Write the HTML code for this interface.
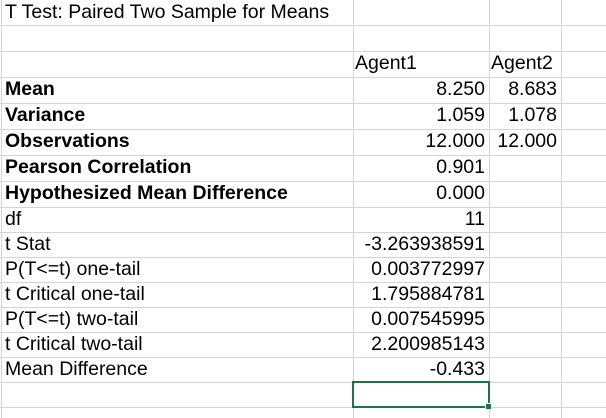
<!DOCTYPE html>
<html><head><meta charset="utf-8"><style>
body{margin:0;width:606px;height:418px;background:#fff;overflow:hidden;position:relative;font-family:"Liberation Sans",Arial,sans-serif;font-size:19.5px;color:#000}
.h{position:absolute;left:0;width:606px;height:1px;background:#d4d4d4}
.v{position:absolute;top:0;height:418px;width:1px;background:#d4d4d4}
.c{position:absolute;white-space:nowrap;line-height:1}
.b{font-weight:bold}
.r{text-align:right}
</style></head><body>
<div class="v" style="left:1px"></div>
<div class="v" style="left:353px"></div>
<div class="v" style="left:489px"></div>
<div class="v" style="left:561px"></div>
<div id="rows"></div>
<div id="cells"></div>
<div style="position:absolute;left:352px;top:381px;width:134px;height:23px;border:2px solid #217346"></div>
<div style="position:absolute;left:485px;top:403px;width:5px;height:5px;background:#217346;border:1px solid #fff"></div>
<script>
const lines=[25,51,77,103,129,155,181,207,232,257,282,307,332,357,382,407];
const rows=document.getElementById('rows');
lines.forEach(y=>{const d=document.createElement('div');d.className='h';d.style.top=y+'px';

rows.appendChild(d);});
const labels=["T Test: Paired Two Sample for Means","","","Mean","Variance","Observations","Pearson Correlation","Hypothesized Mean Difference","df","t Stat","P(T<=t) one-tail","t Critical one-tail","P(T<=t) two-tail","t Critical two-tail","Mean Difference"];
const agent1=["","","Agent1","8.250","1.059","12.000","0.901","0.000","11","-3.263938591","0.003772997","1.795884781","0.007545995","2.200985143","-0.433"];
const agent2=["","","Agent2","8.683","1.078","12.000","","","","","","","","",""];
const tops=[0].concat(lines);
const cells=document.getElementById('cells');
function add(txt,row,x,w,cls,name){
 if(!txt)return;const d=document.createElement('div');d.className='c '+cls;
 
 
 const top=tops[row],h=tops[row+1]-tops[row];
 d.style.top=(top+h/2-10)+'px';d.style.left=x+'px';if(w)d.style.width=w+'px';
 d.textContent=txt;cells.appendChild(d);}
labels.forEach((t,i)=>add(t,i,5,0,(i>=3&&i<=7)?'b':'','row-label'));
agent1.forEach((t,i)=>i==2?add(t,i,355,0,'','agent1-header'):add(t,i,354,131,'r','agent1-value'));
agent2.forEach((t,i)=>i==2?add(t,i,491,0,'','agent2-header'):add(t,i,490,67,'r','agent2-value'));
</script>
</body></html>
